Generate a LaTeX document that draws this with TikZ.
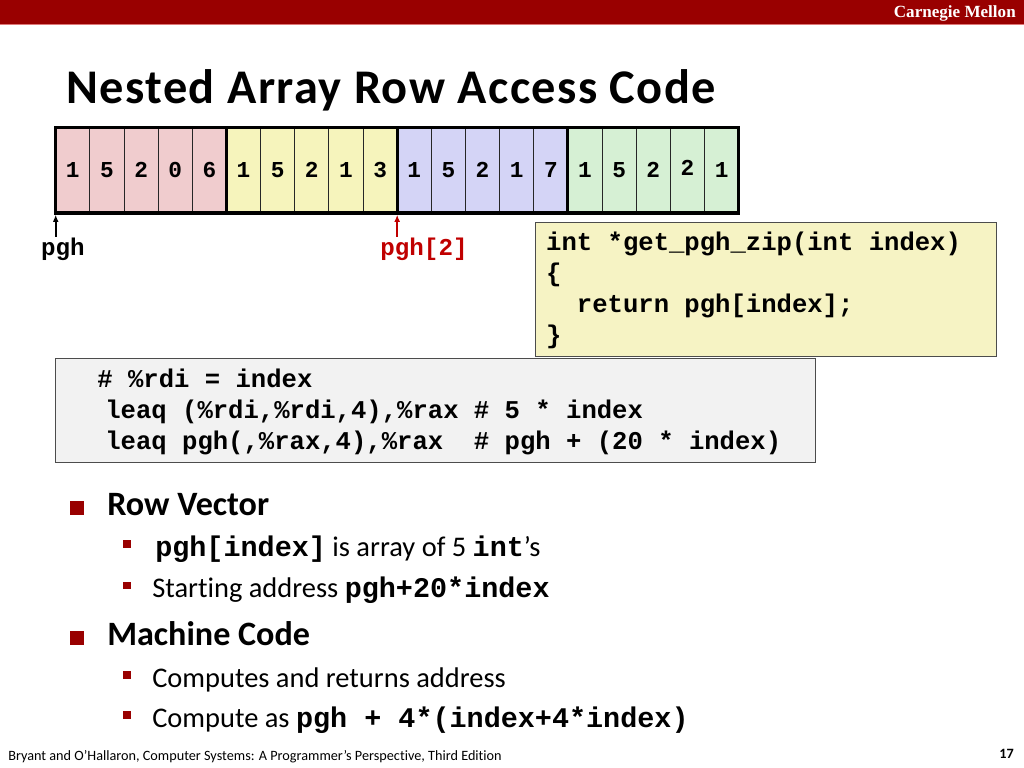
\documentclass[tikz,border=0pt]{standalone}
\usepackage{fontspec}
\setmainfont{Carlito}[Ligatures=NoCommon]
\setmonofont{Liberation Mono}
\newfontfamily\cmufont{Liberation Serif}
\usetikzlibrary{matrix,arrows.meta}

\definecolor{cmured}{RGB}{153,0,0}
\definecolor{cmuline}{RGB}{222,120,120}
\definecolor{ptrred}{RGB}{192,0,0}
\definecolor{rowpink}{RGB}{240,204,206}
\definecolor{rowyellow}{RGB}{246,244,188}
\definecolor{rowblue}{RGB}{212,212,246}
\definecolor{rowgreen}{RGB}{214,240,212}
\definecolor{cyellow}{RGB}{246,243,196}
\definecolor{asmgray}{RGB}{242,242,242}

\tikzset{
  ra/.style={fill=rowpink},
  rb/.style={fill=rowyellow},
  rc/.style={fill=rowblue},
  rd/.style={fill=rowgreen},
  grpbox/.style={line width=2.2pt},
  ptr/.style={line width=1.3pt, {Latex[length=5pt,width=4pt]}-},
  ptrlbl/.style={anchor=base, inner sep=0pt, font=\fontsize{17}{20}\selectfont\ttfamily\bfseries},
  codebox/.style={draw=black!70, line width=0.8pt, anchor=north west, inner sep=0pt},
  codelines/.style={matrix of nodes, anchor=west, inner sep=0pt,
    nodes={anchor=west, inner sep=0pt, text height=14.8pt, text depth=7pt,
      font=\fontsize{#1}{21}\selectfont\ttfamily\bfseries}},
  mainsq/.style={fill=cmured, minimum size=9.5pt, inner sep=0pt},
  subsq/.style={fill=cmured, minimum width=6pt, minimum height=5.6pt, inner sep=0pt},
  maintext/.style={anchor=base west, inner sep=0pt, font=\fontsize{24}{28}\selectfont\bfseries},
  subtext/.style={anchor=base west, inner sep=0pt, font=\fontsize{20}{24}\selectfont},
}
\newcommand{\cd}[1]{{\ttfamily\bfseries #1}}

\begin{document}
\begin{tikzpicture}[x=0.703125pt, y=-0.703125pt]
  \useasboundingbox (0,0) rectangle (1024,768);
  % slide header
  \fill[cmured] (0,0) rectangle (1024,24);
  \fill[cmuline] (0,24) rectangle (1024,25.5);
  \node[anchor=east, text=white, inner sep=0pt, font=\cmufont\fontsize{12}{14}\selectfont\bfseries] (cmu) at (1016,13) {Carnegie Mellon};
  \node[anchor=base west, inner sep=0pt, font=\fontsize{34}{40}\selectfont\bfseries\addfontfeature{LetterSpace=3}] (title) at (66,104) {Nested Array Row Access Code};

  % the array pgh, 4 rows of 5 ints
  \matrix[matrix of nodes, anchor=north west, inner sep=0pt, column sep=-0.6pt,
    nodes={draw=black!85, line width=0.6pt, minimum width=24.01pt, minimum height=59.8pt,
      inner sep=0pt, outer sep=0pt, font=\fontsize{16}{19}\selectfont\ttfamily\bfseries}] (pgh) at (55,126) {
    |[ra]| 1 & |[ra]| 5 & |[ra]| 2 & |[ra]| 0 & |[ra]| 6 &
    |[rb]| 1 & |[rb]| 5 & |[rb]| 2 & |[rb]| 1 & |[rb]| 3 &
    |[rc]| 1 & |[rc]| 5 & |[rc]| 2 & |[rc]| 1 & |[rc]| 7 &
    |[rd]| 1 & |[rd]| 5 & |[rd]| 2 & |[rd]| \raisebox{1.5pt}{2} & |[rd]| 1 \\
  };
  \draw[grpbox] (pgh-1-1.north west) rectangle (pgh-1-5.south east);
  \draw[grpbox] (pgh-1-6.north west) rectangle (pgh-1-10.south east);
  \draw[grpbox] (pgh-1-11.north west) rectangle (pgh-1-15.south east);
  \draw[grpbox] (pgh-1-16.north west) rectangle (pgh-1-20.south east);

  % pointers
  \draw[ptr] ([yshift=-1.2pt]pgh-1-1.south west) -- ++(0,22);
  \draw[ptr, ptrred] ([yshift=-1.2pt]pgh-1-11.south west) -- ++(0,22);
  \node[ptrlbl] (pghlbl) at (63,256) {pgh};
  \node[ptrlbl, text=ptrred] (rowlbl) at (424,256) {pgh[2]};

  % C code
  \node[codebox, fill=cyellow, minimum width=324.1pt, minimum height=94.2pt] (cbox) at (535,222) {};
  \matrix[codelines=18] (ccode) at ([xshift=7.7pt, yshift=-1.2pt]cbox.west) {
    int *get\_pgh\_zip(int index) \\
    \{ \\
    ~~return pgh[index]; \\
    \} \\
  };

  % assembly
  \node[codebox, fill=asmgray, minimum width=534.4pt, minimum height=73.1pt] (asmbox) at (55,358) {};
  \matrix[codelines=18] (asm) at ([xshift=35.2pt, yshift=-1.4pt]asmbox.west) {
    \hspace*{-5.6pt}\# \%rdi = index \\
    leaq (\%rdi,\%rdi,4),\%rax \# 5 * index \\
    leaq pgh(,\%rax,4),\%rax~~\# pgh + (20 * index) \\
  };

  % bullets
  \node[mainsq] (sqrow) at (77,508) {};
  \node[maintext] (rowvec) at (107,515) {Row Vector};
  \node[subsq] (sqa) at (127,544) {};
  \node[subtext] (itema) at (155,556) {\cd{pgh[index]} is array of 5 \cd{int}’s};
  \node[subsq] (sqb) at (127,585.5) {};
  \node[subtext] (itemb) at (152,597) {Starting address \cd{pgh+20*index}};
  \node[mainsq] (sqmach) at (77,638) {};
  \node[maintext] (mach) at (107,645) {Machine Code};
  \node[subsq] (sqc) at (127,675) {};
  \node[subtext] (itemc) at (152,687) {Computes and returns address};
  \node[subsq] (sqd) at (127,715) {};
  \node[subtext] (itemd) at (152,727) {Compute as \cd{pgh + 4*(index+4*index)}};

  % footer
  \node[anchor=base west, inner sep=0pt, font=\fontsize{10}{12}\selectfont] (foot) at (8,760)
    {Bryant and O’Hallaron, Computer Systems: A Programmer’s Perspective, Third Edition};
  \node[anchor=base east, inner sep=0pt, font=\fontsize{10}{12}\selectfont\bfseries] (pageno) at (1014,758) {17};
\end{tikzpicture}
\end{document}
